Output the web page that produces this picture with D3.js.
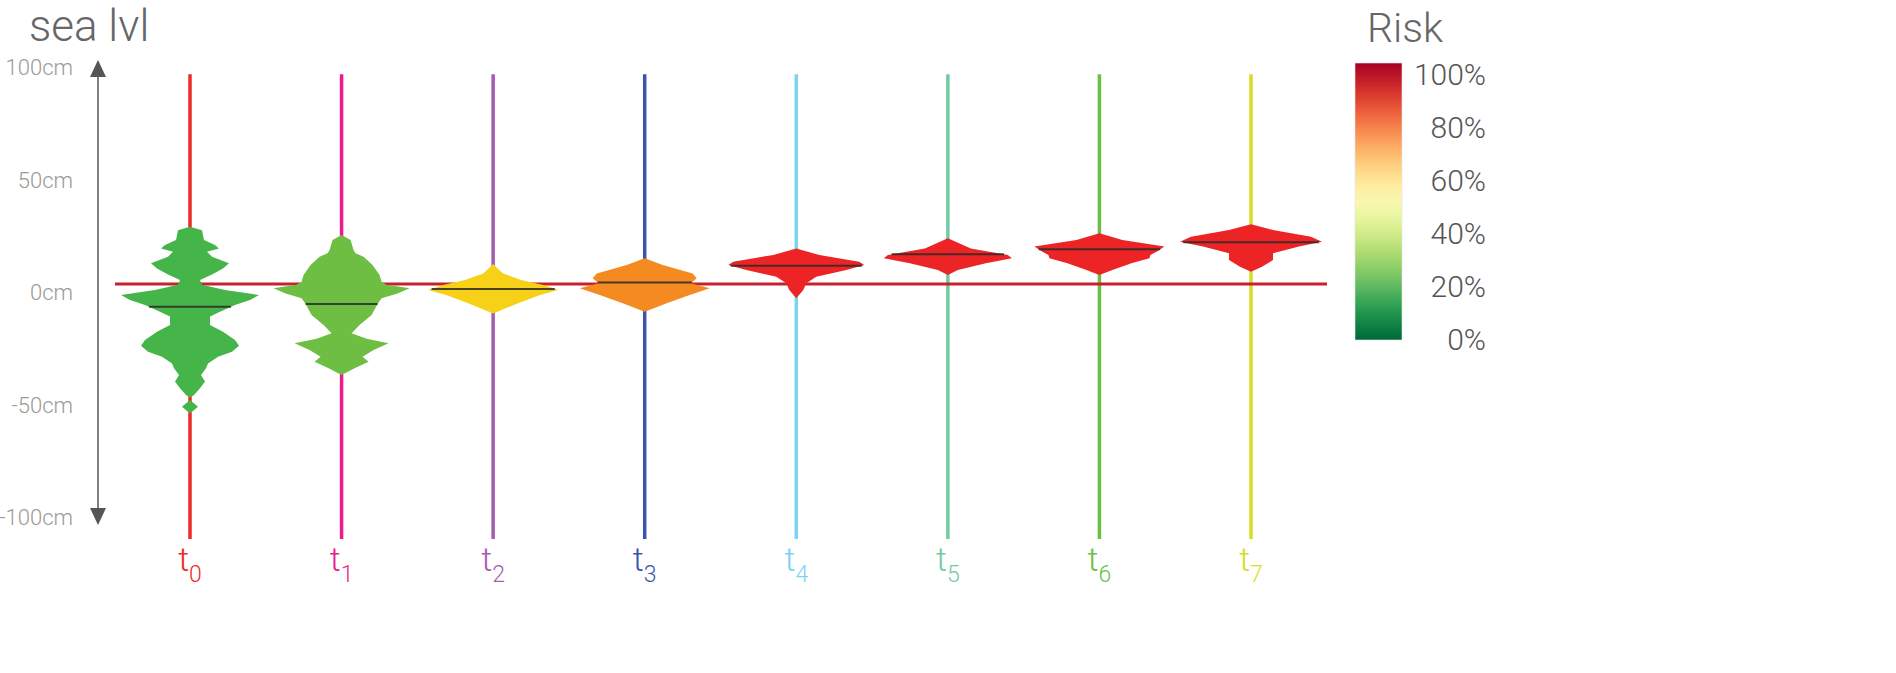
<!DOCTYPE html>
<html>
<head>
<meta charset="utf-8">
<script src="https://cdn.jsdelivr.net/npm/d3@7"></script>
<style>
  html, body { margin: 0; padding: 0; background: #fff; }
  svg { display: block; font-family: "Helvetica Neue", Roboto, "Open Sans", sans-serif; }
</style>
</head>
<body>
<svg id="chart" width="1896" height="673"></svg>
<script>
// ---------- data ----------
const categories = ["0", "1", "2", "3", "4", "5", "6", "7"];
const lineColors = ["#ee2a2a", "#ec1a8c", "#a35db0", "#3a55a8", "#7dd3f2", "#72cba0", "#6cbf44", "#d5de24"];
const violinColors = ["#45b549", "#6fbe44", "#f7d117", "#f58b20", "#ed2426", "#ed2426", "#ed2426", "#ed2426"];
const medians = [-6.3, -5.1, 1.6, 4.5, 11.9, 17.0, 19.2, 22.3];
const threshold = 3.8;
const yTicks = [100, 50, 0, -50, -100];
const riskTicks = [0, 20, 40, 60, 80, 100];

// density profiles: [sea level (cm), density]
const profile0 = [[29.2,0],[27.7,12],[23.3,14],[21.1,25],[19.6,29],[18.1,17],[15.9,22],[13.0,39],[10.7,33],[8.0,22],[5.6,10],[3.4,12],[1.1,35],[-1.1,69],[-3.3,60],[-5.5,45],[-8.5,30],[-10.7,20],[-14.4,20],[-17.4,33],[-21.1,45],[-23.7,49],[-26.3,42],[-28.5,28],[-31.5,18],[-33.7,16],[-36.7,11],[-39.6,15],[-42.6,10],[-45.6,4],[-46.8,0],[-47.8,0],[-50.8,8],[-53.8,0]];
const profile1 = [[25.6,0],[23.3,9],[18.9,12],[17.5,14],[15.9,22],[12.2,31],[7.8,38],[4.8,40],[3.5,45],[1.9,68],[-0.4,56],[-2.5,40],[-5.1,36],[-10.0,30],[-14.4,18],[-18.1,10],[-20.5,25],[-22.6,47],[-25.6,32],[-28.5,21],[-30.8,27],[-33.7,13],[-36.7,0]];
const profile2 = [[12.7,0],[10.5,5],[8.5,10],[5.6,28],[3.3,50],[1.1,65],[-1.1,47],[-4.8,25],[-9.3,0]];
const profile3 = [[15.2,0],[12.2,18],[8.5,48],[6.3,52],[4.1,46],[1.9,65],[-1.1,45],[-4.8,22],[-8.5,0]];
const profile4 = [[19.6,0],[16.7,23],[13.7,63],[12.2,68],[10.0,50],[7.0,20],[4.1,10],[1.1,7],[-2.6,0]];
const profile5 = [[24.1,0],[19.6,23],[16.7,60],[15.2,64],[13.0,38],[10.0,10],[7.8,0]];
const profile6 = [[26.3,0],[23.3,23],[20.4,65],[18.1,57],[16.7,51],[15.2,50],[13.0,32],[10.0,13],[7.8,0]];
const profile7 = [[30.3,0],[27.8,22],[24.8,60],[22.6,71],[20.4,48],[17.4,22],[14.4,22],[11.5,11],[9.2,0]];
const profiles = [profile0, profile1, profile2, profile3, profile4, profile5, profile6, profile7];

// ---------- scales ----------
const svg = d3.select("#chart");
const y = d3.scaleLinear().domain([-100, 100]).range([517.5, 67.5]);
const x = d3.scalePoint().domain(categories).range([190, 1251]);
const w = d3.scaleLinear().domain([0, 70]).range([0, 70]);
const legendY = d3.scaleLinear().domain([0, 100]).range([339, 74]);
const riskColor = t => d3.interpolateRdYlGn(1 - t);

// ---------- title ----------
svg.append("text").attr("x", 29).attr("y", 41)
  .attr("font-size", 44).attr("font-weight", 300).attr("fill", "#666")
  .text("sea lvl");

// ---------- y axis ----------
const defs = svg.append("defs");
const axisG = svg.append("g").attr("transform", "translate(98,0)");
axisG.call(d3.axisLeft(y).tickValues(yTicks).tickFormat(d => d + "cm").tickSize(0).tickPadding(25))
  .call(g => g.select(".domain").remove())
  .call(g => g.selectAll("text").attr("font-size", 22).attr("font-weight", 300).attr("fill", "#9a9a9a")
    .attr("font-family", "\"Helvetica Neue\", Roboto, \"Open Sans\", sans-serif"));
axisG.append("line").attr("x1", 0).attr("x2", 0).attr("y1", 72).attr("y2", 513)
  .attr("stroke", "#555").attr("stroke-width", 1.5);
axisG.append("path").attr("d", "M0,60 L-8,77 L8,77 Z").attr("fill", "#555");
axisG.append("path").attr("d", "M0,525 L-8,508 L8,508 Z").attr("fill", "#555");

// ---------- vertical time lines ----------
svg.append("g").selectAll("line").data(categories).join("line")
  .attr("x1", d => x(d)).attr("x2", d => x(d))
  .attr("y1", y(97)).attr("y2", y(-109.5))
  .attr("stroke", (d, i) => lineColors[i]).attr("stroke-width", 3.5);

// ---------- threshold ----------
svg.append("line").attr("x1", 115).attr("x2", 1327)
  .attr("y1", y(threshold)).attr("y2", y(threshold))
  .attr("stroke", "#c8202f").attr("stroke-width", 3);

// ---------- violins ----------
const vg = svg.append("g");
categories.forEach((c, i) => {
  const cx = x(c);
  const area = d3.area()
    .y(d => y(d[0]))
    .x0(d => cx - w(d[1]))
    .x1(d => cx + w(d[1]))
    .curve(d3.curveLinear);
  vg.append("path").datum(profiles[i]).attr("d", area)
    .attr("fill", violinColors[i]);
  // median line, width = density at median
  const p = profiles[i].slice().sort((a, b) => a[0] - b[0]);
  const interp = d3.scaleLinear().domain(p.map(d => d[0])).range(p.map(d => d[1]));
  const hw = w(interp(medians[i]));
  vg.append("line")
    .attr("x1", cx - hw).attr("x2", cx + hw)
    .attr("y1", y(medians[i])).attr("y2", y(medians[i]))
    .attr("stroke", "#2a2a2a").attr("stroke-opacity", 0.85).attr("stroke-width", 2);
});

// ---------- category labels ----------
const lab = svg.append("g").selectAll("text").data(categories).join("text")
  .attr("x", d => x(d)).attr("y", 571)
  .attr("text-anchor", "middle")
  .attr("fill", (d, i) => lineColors[i])
  .attr("font-size", 34).attr("font-weight", 300);
lab.append("tspan").text("t");
lab.append("tspan").attr("dy", 11).attr("font-size", 23).text(d => d);

// ---------- legend ----------
const grad = defs.append("linearGradient").attr("id", "riskGrad")
  .attr("x1", 0).attr("y1", 1).attr("x2", 0).attr("y2", 0);
d3.range(0, 1.0001, 0.05).forEach(t => {
  grad.append("stop").attr("offset", t).attr("stop-color", riskColor(t));
});
svg.append("text").attr("x", 1367).attr("y", 42)
  .attr("font-size", 41).attr("font-weight", 300).attr("fill", "#666").text("Risk");
svg.append("rect").attr("x", 1355).attr("y", 63).attr("width", 47).attr("height", 277)
  .attr("fill", "url(#riskGrad)").attr("stroke", "#e4e4e4").attr("stroke-width", 0.6);
svg.append("g").selectAll("text").data(riskTicks).join("text")
  .attr("x", 1486).attr("y", d => legendY(d))
  .attr("dy", "0.35em").attr("text-anchor", "end")
  .attr("font-size", 30).attr("font-weight", 300).attr("fill", "#555")
  .text(d => d + "%");
</script>
</body>
</html>
